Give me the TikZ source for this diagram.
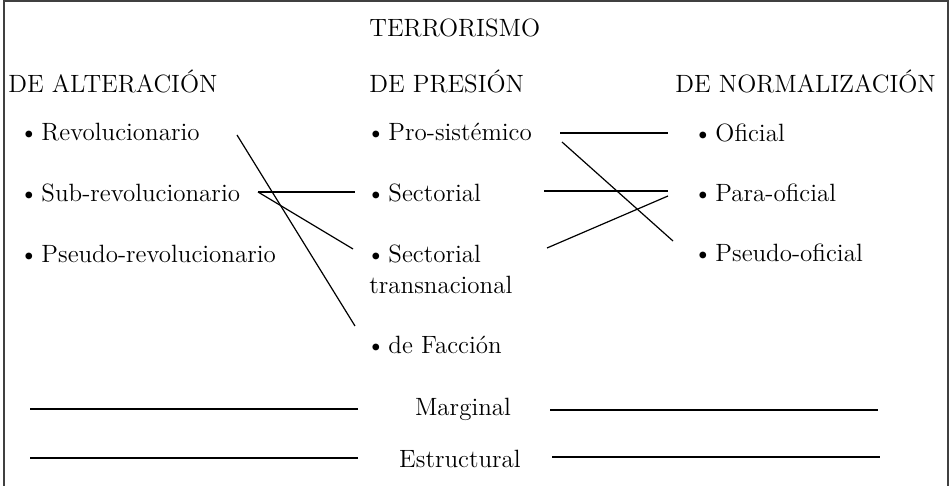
\documentclass[tikz,border=0pt]{standalone}
\usepackage{tikz}
\usetikzlibrary{positioning}

\begin{document}
\begin{tikzpicture}[x=0.5pt,y=-0.5pt,
  every node/.style={font=\fontsize{12.5}{15}\selectfont,inner sep=0pt,anchor=base west},
  ctr/.style={anchor=base},
  link/.style={line width=0.6pt}]
\useasboundingbox (0,0) rectangle (949,486);
\draw[line width=0.9pt,black!75] (4,486) -- (4,1) -- (948,1) -- (948,486);
% headings
\node at (369,37)(terr){TERRORISMO};
\node at (8,93)(alt){DE ALTERACIÓN};
\node at (369,93)(pres){DE PRESIÓN};
\node at (675,93)(norm){DE NORMALIZACIÓN};
% de alteracion
\node at (19,141)(rev){\textbullet\hspace{1.5pt}Revolucionario};
\node at (19,202)(subrev){\textbullet\hspace{1.5pt}Sub-revolucionario};
\node at (19,263)(pseudorev){\textbullet\hspace{1.5pt}Pseudo-revolucionario};
% de presion
\node at (366,141)(prosist){\textbullet\hspace{1.5pt}Pro-sistémico};
\node at (366,202)(sect){\textbullet\hspace{1.5pt}Sectorial};
\node at (366,263)(secttr){\textbullet\hspace{1.5pt}Sectorial};
\node at (369,294)(secttrb){transnacional};
\node at (366,354)(faccion){\textbullet\hspace{1.5pt}de Facción};
% de normalizacion
\node at (693,142)(ofi){\textbullet\hspace{1.5pt}Oficial};
\node at (693,202)(paraofi){\textbullet\hspace{1.5pt}Para-oficial};
\node at (693,262)(pseudoofi){\textbullet\hspace{1.5pt}Pseudo-oficial};
% bottom rows
\node at (463,416)[ctr](marg){Marginal};
\node at (460,467)[ctr](estr){Estructural};
% links
\draw[link] ([shift={(218,-6)}]rev.base west) -- ([shift={(-11,-28)}]faccion.base west);
\draw[link] ([shift={(239,-10)}]subrev.base west) -- ([shift={(-11,-10)}]sect.base west);
\draw[link] ([shift={(239,-10)}]subrev.base west) -- ([shift={(-13,-14)}]secttr.base west);
\draw[link] ([shift={(194,-8)}]prosist.base west) -- ([shift={(-25,-9)}]ofi.base west);
\draw[link] ([shift={(196,1)}]prosist.base west) -- ([shift={(-20,-21)}]pseudoofi.base west);
\draw[link] ([shift={(178,-11)}]sect.base west) -- ([shift={(-25,-11)}]paraofi.base west);
\draw[link] ([shift={(181,-15)}]secttr.base west) -- ([shift={(-25,-6)}]paraofi.base west);
\draw[link] ([shift={(-105,-7)}]marg.base) -- ++(-328,0);
\draw[link] ([shift={(87,-6)}]marg.base) -- ++(328,0);
\draw[link] ([shift={(-102,-9)}]estr.base) -- ++(-328,0);
\draw[link] ([shift={(92,-10)}]estr.base) -- ++(328,0);
\end{tikzpicture}
\end{document}
